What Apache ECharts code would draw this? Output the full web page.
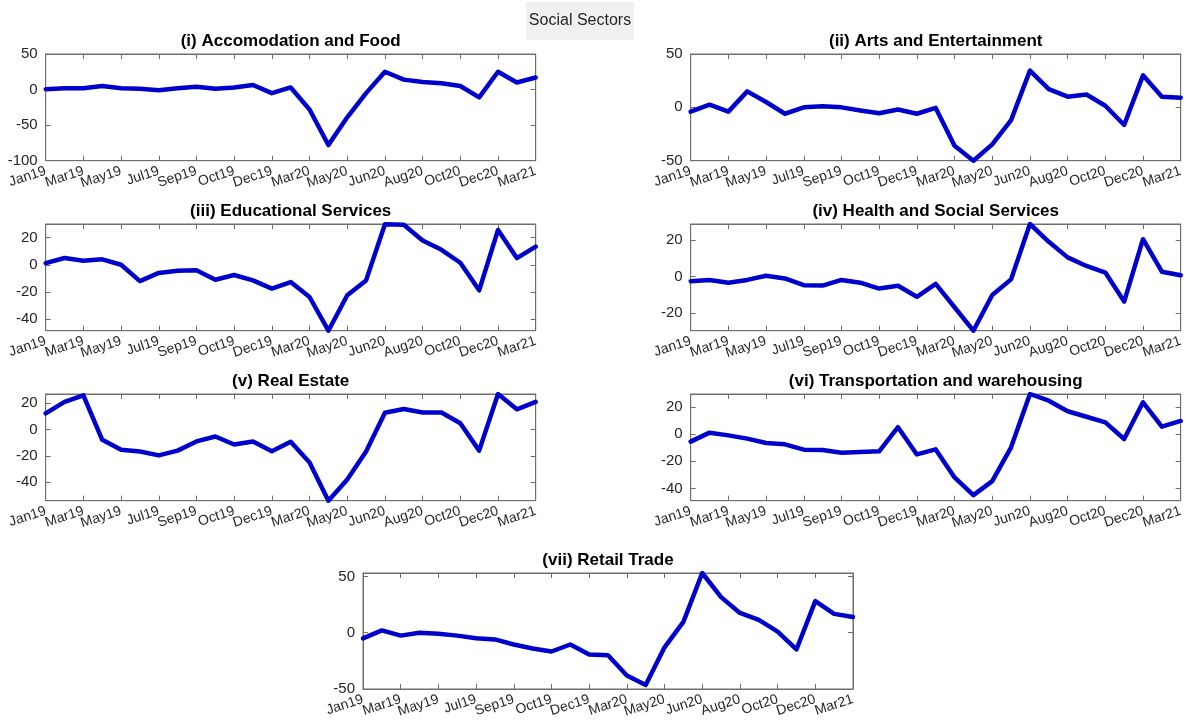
<!DOCTYPE html>
<html>
<head>
<meta charset="utf-8">
<title>Social Sectors</title>
<script src="https://cdn.jsdelivr.net/npm/echarts@6/dist/echarts.min.js"></script>
<style>
  html, body { margin: 0; padding: 0; background: #ffffff; }
  #chart { width: 1192px; height: 725px; }
</style>
</head>
<body>
<div id="chart"></div>
<script>
// Month tick labels along every x axis (one label per two observations)
const xTickLabels = ['Jan19', 'Mar19', 'May19', 'Jul19', 'Sep19', 'Oct19', 'Dec19',
  'Mar20', 'May20', 'Jun20', 'Aug20', 'Oct20', 'Dec20', 'Mar21'];

// Monthly series, one array per sector
const accomodationFood = [0.5, 2, 2, 5, 2, 1, -1, 2, 4, 1, 3, 6.5, -5, 3, -28, -78, -39, -5, 25, 14, 10.6, 8.8, 5, -11, 25, 10, 17];
const artsEntertainment = [-4, 2.5, -4, 15, 5, -6, 0, 1, 0, -3, -5.6, -2, -6, -0.5, -36, -50, -34.7, -12, 34.4, 17, 10, 12, 1.5, -16.5, 30, 10, 9];
const educationalServices = [1.2, 5, 3, 4, 0, -12, -6, -4.4, -4, -11, -7.5, -11.5, -17.5, -12.7, -23.7, -48.5, -22.4, -11.5, 29.8, 29.5, 17.8, 11, 1.5, -18.8, 25.6, 4.9, 13.4];
const healthSocial = [-2.5, -1.8, -3.3, -1.8, 0.5, -1, -4.7, -4.9, -1.8, -3.3, -6.5, -5, -11, -4, -16.7, -29.5, -10, -1.5, 28.7, 19, 10.5, 5.8, 2.2, -13.6, 20.4, 2.7, 0.7];
const realEstate = [12.3, 21, 26, -7.8, -15.4, -16.6, -19.6, -16, -9, -5.3, -11.3, -9, -16.4, -9.3, -25, -54, -38, -16.6, 12.8, 15.6, 13, 13, 4.8, -16, 27, 15.4, 21];
const transportation = [-5.6, 1, -1, -3.4, -6.6, -7.6, -11.5, -11.8, -13.7, -13.2, -12.7, 5, -15, -11.3, -31.9, -44.9, -34.6, -9.8, 29.4, 24.5, 16.7, 12.7, 8.6, -3.7, 23.3, 5.4, 9.6];
const retailTrade = [-5, 2, -2.6, 0, -1, -2.6, -5, -6, -10.5, -14, -16.7, -10.5, -19.3, -20, -38, -46.5, -13, 9.6, 53, 31.6, 17.5, 11.4, 1, -14.9, 28, 16.7, 14];

// Panel titles
const panelTitles = ['(i) Accomodation and Food', '(ii) Arts and Entertainment',
  '(iii) Educational Services', '(iv) Health and Social Services',
  '(v) Real Estate', '(vi) Transportation and warehousing', '(vii) Retail Trade'];

// y tick values and limits per panel
const yTicks = [[-100, -50, 0, 50], [-50, 0, 50], [-40, -20, 0, 20], [-20, 0, 20],
  [-40, -20, 0, 20], [-40, -20, 0, 20], [-50, 0, 50]];
const yLimits = [[-100, 50], [-50, 50], [-48.5, 30], [-29.5, 28.7], [-54, 27], [-49, 29.4], [-50, 53]];

const seriesData = [accomodationFood, artsEntertainment, educationalServices, healthSocial,
  realEstate, transportation, retailTrade];

// Subplot placement (px)
const panels = [
  { left: 45.7, top: 54, width: 490, height: 106.7 },
  { left: 690.7, top: 54, width: 490, height: 106.7 },
  { left: 45.7, top: 224, width: 490, height: 106.7 },
  { left: 690.7, top: 224, width: 490, height: 106.7 },
  { left: 45.7, top: 394, width: 490, height: 106.7 },
  { left: 690.7, top: 394, width: 490, height: 106.7 },
  { left: 363, top: 573, width: 490, height: 116 }
];

const axisColor = '#6e6e6e';
const textColor = '#262626';
const lineColor = '#0000cd';
const fontFamily = 'Liberation Sans, Arial, Helvetica, sans-serif';

const grid = [], xAxis = [], yAxis = [], series = [];
const title = [{
  text: 'Social Sectors',
  left: 577, top: 2, textAlign: 'center',
  backgroundColor: '#f0f0f0', padding: [11, 3],
  textStyle: { fontFamily, fontSize: 16, fontWeight: 'normal', color: textColor }
}];

// A month is labelled at every second observation
const everyOther = index => index % 2 === 0;

panels.forEach((p, i) => {
  const n = seriesData[i].length;
  const obsIndex = Array.from({ length: n }, (_, k) => k);

  grid.push({ left: p.left, top: p.top, width: p.width, height: p.height,
    show: true, borderColor: axisColor, borderWidth: 1, backgroundColor: '#ffffff' });

  title.push({
    text: panelTitles[i],
    left: p.left + p.width / 2, top: p.top - 21, textAlign: 'center',
    padding: 0,
    textStyle: { fontFamily, fontSize: 17, fontWeight: 'bold', color: '#000000' }
  });

  const xBase = {
    type: 'category', gridIndex: i, data: obsIndex, boundaryGap: false,
    axisLine: { show: true, onZero: false, lineStyle: { color: axisColor, width: 1 } },
    axisTick: { show: true, inside: true, length: 5, interval: everyOther, lineStyle: { color: axisColor } },
    splitLine: { show: false }
  };
  xAxis.push(Object.assign({}, xBase, {
    position: 'bottom',
    axisLabel: {
      show: true, interval: 0, rotate: 18, margin: 10, fontFamily, fontSize: 14, color: textColor,
      formatter: (v, idx) => (idx % 2 === 0 ? xTickLabels[idx / 2] : '')
    }
  }));
  xAxis.push(Object.assign({}, xBase, { position: 'top', axisLabel: { show: false } }));

  const yBase = {
    type: 'value', gridIndex: i, min: yLimits[i][0], max: yLimits[i][1],
    axisLine: { show: true, onZero: false, lineStyle: { color: axisColor, width: 1 } },
    splitLine: { show: false }
  };
  yAxis.push(Object.assign({}, yBase, {
    position: 'left',
    axisTick: { show: true, inside: true, length: 5, customValues: yTicks[i], lineStyle: { color: axisColor } },
    axisLabel: { show: true, customValues: yTicks[i], hideOverlap: false, margin: 8, fontFamily, fontSize: 15, color: textColor }
  }));
  yAxis.push(Object.assign({}, yBase, {
    position: 'right',
    axisTick: { show: true, inside: true, length: 5, customValues: yTicks[i], lineStyle: { color: axisColor } },
    axisLabel: { show: false }
  }));

  series.push({
    type: 'line',
    xAxisIndex: 2 * i, yAxisIndex: 2 * i,
    data: seriesData[i],
    showSymbol: false, symbol: 'none',
    lineStyle: { color: lineColor, width: 4.5, join: 'round', cap: 'round' },
    clip: true,
    animation: false
  });
});

const chart = echarts.init(document.getElementById('chart'), null, { renderer: 'canvas' });
chart.setOption({ animation: false, backgroundColor: '#ffffff', title, grid, xAxis, yAxis, series });
</script>
</body>
</html>
